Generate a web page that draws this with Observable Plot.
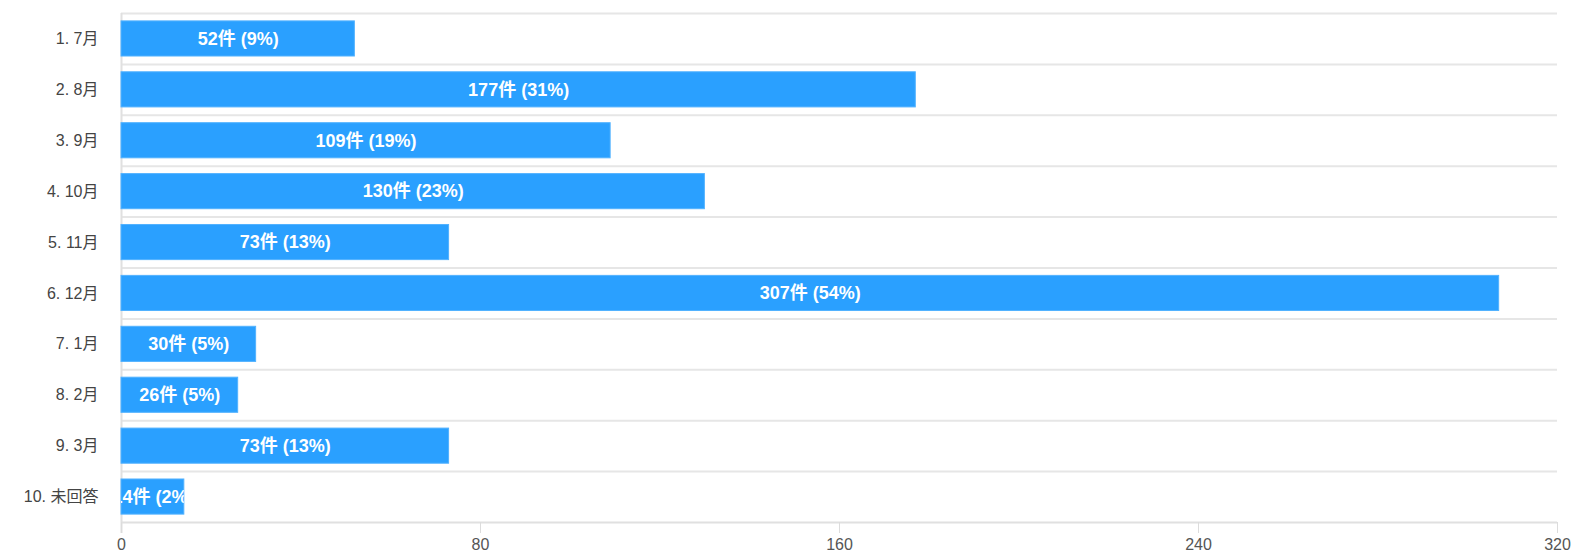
<!DOCTYPE html>
<html>
<head>
<meta charset="utf-8">
<script src="https://cdn.jsdelivr.net/npm/d3@7"></script>
<script src="https://cdn.jsdelivr.net/npm/@observablehq/plot@0.6"></script>
<style>
  html, body { margin: 0; padding: 0; background: #fff; }
  #chart svg { display: block; }
</style>
</head>
<body>
<div id="chart"></div>
<script>
const categories = ["1. 7月", "2. 8月", "3. 9月", "4. 10月", "5. 11月", "6. 12月", "7. 1月", "8. 2月", "9. 3月", "10. 未回答"];
const counts = [52, 177, 109, 130, 73, 307, 30, 26, 73, 14];
const percents = [9, 31, 19, 23, 13, 54, 5, 5, 13, 2];
const xTicks = [0, 80, 160, 240, 320];

const data = categories.map((c, i) => ({cat: c, value: counts[i], label: `${counts[i]}件 (${percents[i]}%)`}));

const W = 1576, H = 558, mT = 13, mB = 36, mL = 121, mR = 19;
const step = (H - mT - mB) / categories.length;
const FONT = "'Liberation Sans', 'Noto Sans CJK JP', sans-serif";

const plot = Plot.plot({
  width: W,
  height: H,
  marginTop: mT,
  marginBottom: mB,
  marginLeft: mL,
  marginRight: mR,
  style: {fontFamily: FONT, background: "#fff"},
  x: {domain: [0, 320], ticks: xTicks, label: null},
  y: {domain: categories, paddingInner: 0.31, paddingOuter: 0.155, round: false, label: null},
  marks: [
    // horizontal separators between rows
    Plot.ruleY(categories, {y: d => d, dy: -step / 2, stroke: "#e6e6e6", strokeWidth: 2}),
    // vertical axis line
    Plot.ruleX([0], {stroke: "#e0e0e0", strokeWidth: 2, insetBottom: -11}),
    Plot.barX(data, {y: "cat", x: "value", fill: "#2aa0ff", stroke: "#52b2ff", strokeWidth: 1, className: "bars"}),
    Plot.text(data, {y: "cat", x: d => d.value / 2, text: "label", fill: "#fff", fontWeight: "bold", fontSize: 18, className: "labels"}),
    Plot.ruleY([categories[categories.length - 1]], {dy: step / 2, stroke: "#e0e0e0", strokeWidth: 2}),
    Plot.axisX({ticks: xTicks, tickSize: 11, tickPadding: 5, stroke: "#dcdcdc", fill: "#555", fontSize: 16, tickFormat: d => String(d), label: null}),
    Plot.axisY({tickSize: 0, tickPadding: 23, fill: "#444", fontSize: 16, label: null})
  ]
});

document.getElementById("chart").appendChild(plot);

// clip each label to its bar
const svg = d3.select(plot);
const defs = svg.insert("defs", ":first-child");
const rects = svg.selectAll("g.bars rect").nodes();
const texts = svg.selectAll("g.labels text").nodes();
rects.forEach((r, i) => {
  const t = texts[i];
  if (!t) return;
  const wrap = document.createElementNS("http://www.w3.org/2000/svg", "g");
  t.parentNode.insertBefore(wrap, t);
  wrap.appendChild(t);
  const bb = r.getBBox();
  const m = wrap.getCTM().inverse().multiply(r.getCTM());
  const p1 = new DOMPoint(bb.x, bb.y).matrixTransform(m);
  const p2 = new DOMPoint(bb.x + bb.width, bb.y + bb.height).matrixTransform(m);
  const id = "clipbar" + i;
  defs.append("clipPath").attr("id", id).append("rect")
    .attr("x", Math.min(p1.x, p2.x)).attr("y", Math.min(p1.y, p2.y))
    .attr("width", Math.abs(p2.x - p1.x)).attr("height", Math.abs(p2.y - p1.y));
  wrap.setAttribute("clip-path", `url(#${id})`);
});
</script>
</body>
</html>
